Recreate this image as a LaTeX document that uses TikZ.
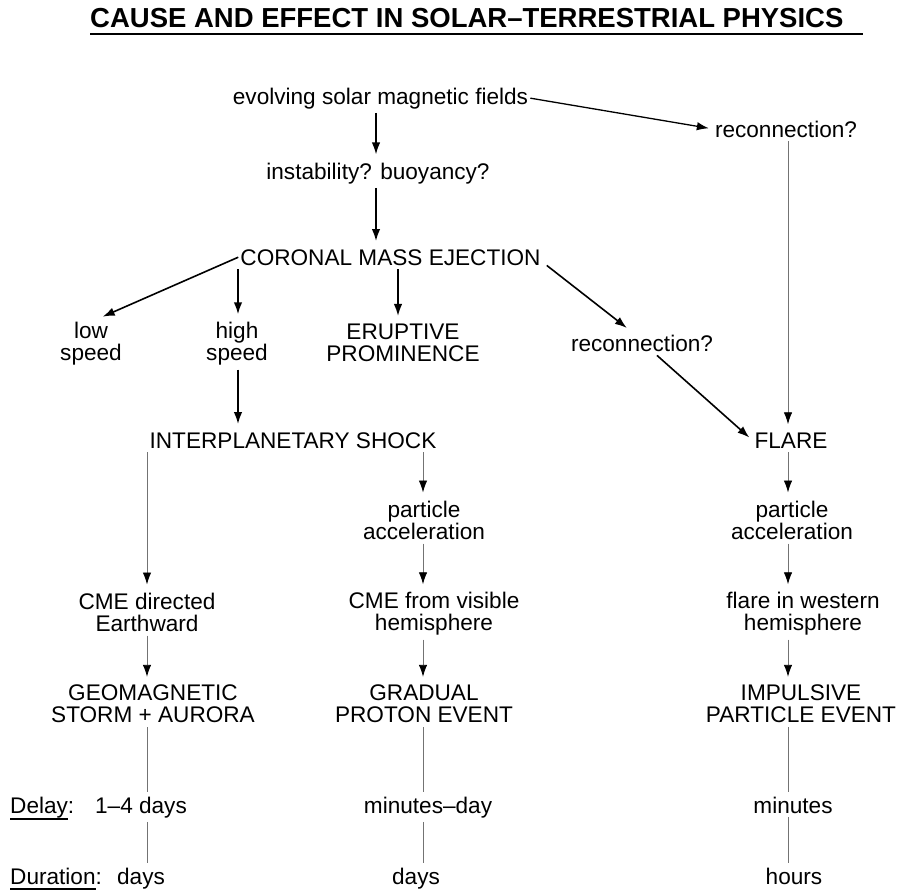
\documentclass[tikz,border=0pt]{standalone}
\usepackage{fontspec}
\setmainfont{Liberation Sans}
\usetikzlibrary{arrows.meta,calc}
\newcommand\myul[2]{\setbox0\hbox{#1}\rlap{\rule[-#2]{\wd0}{1.1pt}}#1}
\begin{document}
\begin{tikzpicture}[x=1pt,y=-1pt,
  every node/.style={font=\fontsize{22.6}{22}\selectfont, inner xsep=2pt, inner ysep=4pt, align=center},
  lab/.style={anchor=base},
  thk/.style={line width=1.6pt, -{Latex[length=12pt,width=8.5pt]}, shorten >=4pt},
  thn/.style={line width=0.9pt, draw=black!55, -{Latex[length=12pt,width=8.5pt,color=black]}, shorten >=4pt},
  pln/.style={line width=0.9pt, draw=black!55},
]
\useasboundingbox (0,0) rectangle (904,891);
% title
\node[anchor=base west, font=\fontsize{27.5}{30}\selectfont\bfseries] (title) at (88,28)
  {\rlap{\rule[-6.5pt]{773pt}{1.5pt}}CAUSE AND EFFECT IN SOLAR–TERRESTRIAL PHYSICS};
% columns
\coordinate (cL) at (147,0);
\coordinate (cM) at (423,0);
\coordinate (cR) at (788,0);
\coordinate (cH) at (238,0);
\coordinate (cE) at (398,0);
\coordinate (cT) at (376,0);
% nodes
\node[lab] (evolve) at (380.5,104) {evolving solar magnetic fields};
\node[lab] (rectop) at (786,137) {reconnection?};
\node[lab] (instab) at (378,179) {instability? buoyancy?};
\node[lab] (cme) at (390.5,265) {CORONAL MASS EJECTION};
\node (low) at (91,344) {low\\speed};
\node (high) at (237,344) {high\\speed};
\node (erupt) at (403,343) {ERUPTIVE\\PROMINENCE};
\node[lab] (recmid) at (642,351) {reconnection?};
\node[lab] (is) at (293,448) {INTERPLANETARY SHOCK};
\node[lab] (flare) at (791,448) {FLARE};
\node (pam) at (424,520) {particle\\acceleration};
\node (par) at (792,520) {particle\\acceleration};
\node (cmed) at (147,612) {CME directed\\Earthward};
\node (cmev) at (434,614) {CME from visible\\hemisphere};
\node (flw) at (803,614) {flare in western\\hemisphere};
\node (geo) at (153,704) {GEOMAGNETIC\\STORM + AURORA};
\node (grad) at (424,704) {GRADUAL\\PROTON EVENT};
\node (imp) at (801,704) {IMPULSIVE\\PARTICLE EVENT};
\node[anchor=base west] (delaylab) at (8,813) {\myul{Delay}{6.5pt}:};
\node[lab] (d1) at (141,813) {1–4 days};
\node[lab] (d2) at (428,813) {minutes–day};
\node[lab] (d3) at (793,813) {minutes};
\node[anchor=base west] (durlab) at (8,884) {\myul{Duration}{5.5pt}:};
\node[lab] (u1) at (141,884) {days};
\node[lab] (u2) at (416,884) {days};
\node[lab] (u3) at (794,884) {hours};
% thick arrows
\draw[thk] (evolve.south -| cT) -- (instab.north -| cT);
\draw[thk] (instab.south -| cT) -- (cme.north -| cT);
\draw[thk, line width=1.3pt] (evolve.east) -- (rectop.west);
\draw[thk] (cme.west) -- ([xshift=8pt]low.north);
\draw[thk] (cme.south -| cH) -- (high.north -| cH);
\draw[thk] (cme.south -| cE) -- (erupt.north -| cE);
\draw[thk] ([xshift=4pt,yshift=4pt]cme.south east) -- ([xshift=-12pt]recmid.north);
\draw[thk] ([xshift=15pt]recmid.south) -- (flare.west);
\draw[thk] (high.south -| cH) -- (is.north -| cH);
% thin arrows
\draw[thn] (rectop.south -| cR) -- (flare.north -| cR);
\draw[thn] (is.south -| cL) -- (cmed.north -| cL);
\draw[thn] (is.south -| cM) -- (pam.north -| cM);
\draw[thn] (pam.south -| cM) -- (cmev.north -| cM);
\draw[thn] (cmed.south -| cL) -- (geo.north -| cL);
\draw[thn] (cmev.south -| cM) -- (grad.north -| cM);
\draw[thn] (flare.south -| cR) -- (par.north -| cR);
\draw[thn] (par.south -| cR) -- (flw.north -| cR);
\draw[thn] (flw.south -| cR) -- (imp.north -| cR);
% plain lines
\draw[pln] (geo.south -| cL) -- (d1.north -| cL);
\draw[pln] (d1.south -| cL) -- (u1.north -| cL);
\draw[pln] (grad.south -| cM) -- (d2.north -| cM);
\draw[pln] (d2.south -| cM) -- (u2.north -| cM);
\draw[pln] (imp.south -| cR) -- (d3.north -| cR);
\draw[pln] (d3.south -| cR) -- (u3.north -| cR);
\end{tikzpicture}
\end{document}
